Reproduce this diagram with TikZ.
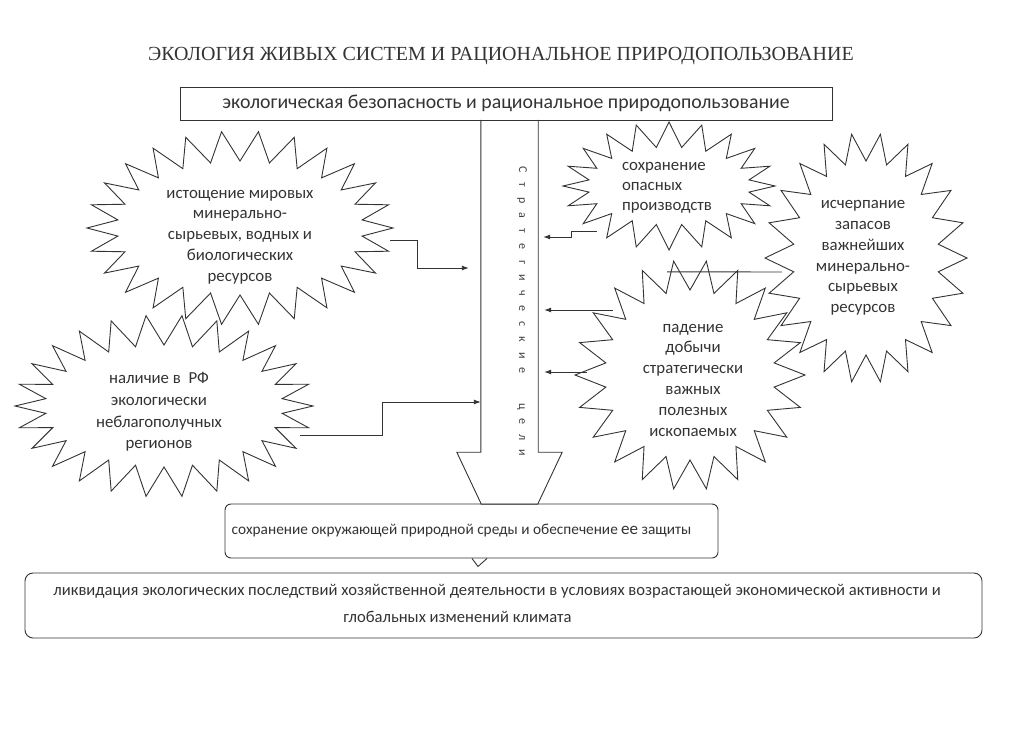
\documentclass[tikz,border=0pt]{standalone}
\usepackage{fontspec}
\setmainfont{Carlito}
\newfontfamily\titlefont{Liberation Serif}
\usetikzlibrary{arrows.meta,calc}
\newcommand\zburst[7]{%
  \pgfmathtruncatemacro\zbn{2*#7-1}%
  \draw[burstline] ({#2+#4},{#3}) \foreach \k in {1,...,\zbn}{ -- ({#2+(#4-#6*mod(\k,2))*cos(\k*180/#7)},{#3+(#5-#6*mod(\k,2))*sin(\k*180/#7)}) } -- cycle;
  \node[inner sep=0, minimum width={2*#4}, minimum height={2*#5}] (#1) at (#2,#3) {};
}
\newcommand\lt[1]{\makebox[15.5pt]{#1}}
\begin{document}
\begin{tikzpicture}[x=1pt,y=-1pt,
  line/.style={draw=black!80, line width=0.9pt},
  arr/.style={line, -{Latex[length=7pt,width=5pt]}},
  burstline/.style={line, line join=miter},
  btext/.style={align=center, font=\fontsize{16.8}{20.8}\selectfont, text=black!80, inner sep=0},
  boxtext/.style={text=black!80, inner sep=0}]
\useasboundingbox (0,0) rectangle (1019,728);
% title
\node[anchor=base, font=\titlefont\fontsize{20}{22}\selectfont, text=black!80] (title) at (501,60) {ЭКОЛОГИЯ ЖИВЫХ СИСТЕМ И РАЦИОНАЛЬНОЕ ПРИРОДОПОЛЬЗОВАНИЕ};
% top box
\node[line, boxtext, minimum width=652, minimum height=33, font=\fontsize{19.8}{22}\selectfont] (top) at (506,103.5) {экологическая безопасность и рациональное природопользование};
% shaft of the big arrow
\node[inner sep=0, minimum width=57, minimum height=332] (shaft) at (509.5,286) {};
% bottom boxes
\node[line, boxtext, rounded corners=6pt, minimum width=493, minimum height=54, font=\fontsize{15.3}{20}\selectfont] (boxA) at (471.5,531) {сохранение окружающей природной среды и обеспечение {\fontsize{17}{20}\selectfont ее} защиты\hspace*{20pt}};
\node[line, boxtext, rounded corners=8pt, minimum width=957, minimum height=65, align=center, font=\fontsize{16.6}{27}\selectfont] (boxB) at (503.5,605.5) {\raisebox{4pt}{ликвидация экологических последствий хозяйственной деятельности в условиях возрастающей экономической активности и}\hspace*{13pt}\\ \raisebox{4pt}{глобальных изменений климата}\hspace*{92pt}};
\draw[line] (shaft.north west) -- (shaft.south west) -- ++(-24,0) -- ($(shaft.south west)+(0.5,52)$) -- ($(shaft.south east)+(-0.5,52)$) -- ($(shaft.south east)+(24,0)$) -- (shaft.south east) -- (shaft.north east);
\draw[line] ($(boxA.south)+(0.5,0)$) -- ++(6,8) -- ++(9,-8);
\node[rotate=-90, font=\fontsize{12}{12}\selectfont, text=black!75, inner sep=0] (goals) at (522,311) {\lt{С}\lt{т}\lt{р}\lt{а}\lt{т}\lt{е}\lt{г}\lt{и}\lt{ч}\lt{е}\lt{с}\lt{к}\lt{и}\lt{е}\hspace{20pt}\lt{ц}\lt{е}\lt{л}\lt{и}};
% starbursts
\zburst{s1}{240}{228}{153}{97}{30}{26}
\zburst{s2}{164}{406}{149}{91}{30}{26}
\zburst{s3}{669}{186}{106}{64}{25}{20}
\zburst{s4}{866}{258}{101}{125}{28}{22}
\zburst{s5}{690}{375}{115}{115}{30}{22}
\node[btext] (t1) at (240,237) {истощение мировых\\минерально-\\сырьевых, водных и\\биологических\\ресурсов};
\node[btext, font=\fontsize{16.8}{21.7}\selectfont] (t2) at (159,412) {наличие в~~РФ\\экологически\\неблагополучных\\регионов};
\node[btext, align=left, font=\fontsize{16.8}{20}\selectfont] (t3) at (667,188) {сохранение\\опасных\\производств};
\node[btext] (t4) at (863,258) {исчерпание\\запасов\\важнейших\\минерально-\\сырьевых\\ресурсов};
\node[btext] (t5) at (693,380) {падение\\добычи\\стратегически\\важных\\полезных\\ископаемых};
% connectors
\draw[arr] ($(s1.east)+(-3,12)$) -| ($(s1.east)+(24,40)$) -- ($(shaft.west |- 0,268)+(-12,0)$);
\draw[arr] ($(s2.east)+(-13,29)$) -| ($(s2.east)+(69,-4)$) -- (shaft.west |- 0,402);
\draw[arr] ($(s3.west)+(34,45)$) -| ($(s3.west)+(9,51)$) -- ($(shaft.east |- 0,237)+(5,0)$);
\draw[line] ($(s4.west)+(17,14)$) -- ($(s5.north)+(-23,12)$);
\draw[arr] ($(s5.west)+(38,-65)$) -- ($(shaft.east |- 0,310)+(6,0)$);
\draw[arr] ($(s5.west)+(12,-3)$) -- ($(shaft.east |- 0,372)+(6,0)$);
\end{tikzpicture}
\end{document}
